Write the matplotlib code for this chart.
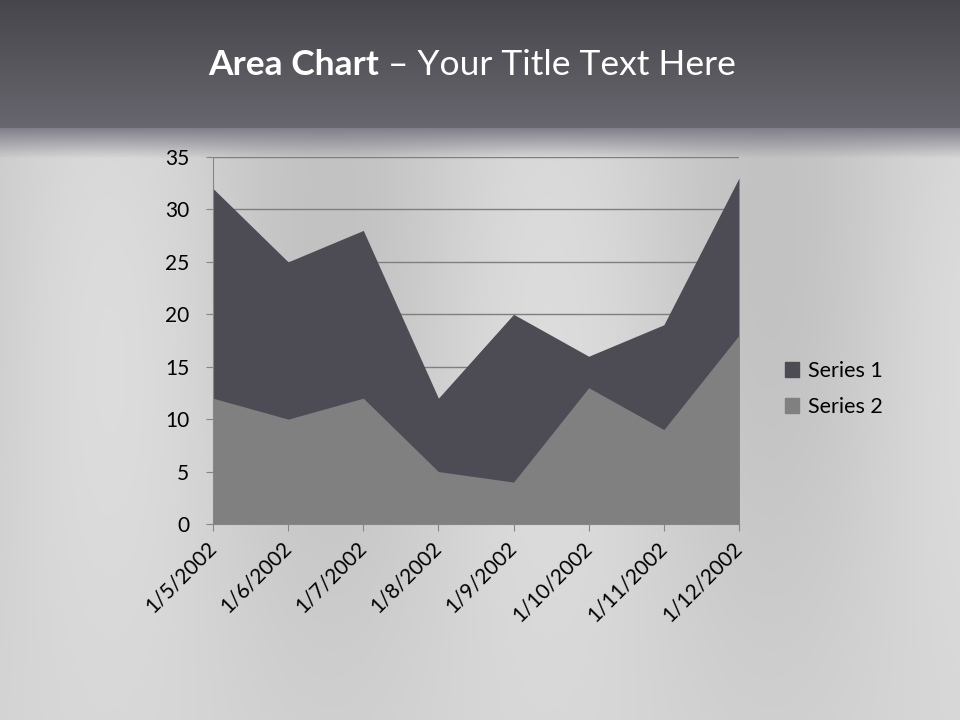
import numpy as np
import matplotlib
matplotlib.use("Agg")
import matplotlib.pyplot as plt
from matplotlib.patches import Patch

categories = ["1/5/2002", "1/6/2002", "1/7/2002", "1/8/2002",
              "1/9/2002", "1/10/2002", "1/11/2002", "1/12/2002"]
series1 = [32, 25, 28, 12, 20, 16, 19, 33]
series2 = [12, 10, 12, 5, 4, 13, 9, 18]
series_names = ["Series 1", "Series 2"]
yticks = [0, 5, 10, 15, 20, 25, 30, 35]

FONT = "Lato"
plt.rcParams['font.family'] = [FONT, 'DejaVu Sans']

fig = plt.figure(figsize=(9.6, 7.2), dpi=100)

# background
bg = fig.add_axes([0, 0, 1, 1], zorder=-10)
bg.set_axis_off()
H, W = 720, 960
yy = np.arange(H)[:, None].astype(float)
xx = np.arange(W)[None, :].astype(float)
top = np.array([0x47, 0x46, 0x4c]) / 255
mid = np.array([0x68, 0x67, 0x6f]) / 255
t = np.clip(yy / 128.0, 0, 1)[..., None]
band = top * (1 - t) + mid * t
light = (0.80 + 0.05 * np.sin(xx / 70.0) * np.exp(-((yy - 300) / 400.0) ** 2)
         + 0.03 * (yy / H))
lightimg = np.repeat(np.clip(light, 0, 1)[..., None], 3, axis=2)
fade = np.clip((yy - 128) / 30.0, 0, 1)[..., None]
below = mid * (1 - fade) * 1.25 + lightimg * fade
below = np.clip(below, 0, 1)
img = np.where(yy[..., None] < 128, np.broadcast_to(band, (H, W, 3)), below)
bg.imshow(img, aspect='auto', extent=[0, 1, 0, 1], transform=bg.transAxes)

ax = fig.add_axes([213/960, 1-524/720, 526/960, 367/720])
ax.patch.set_alpha(0)
x = np.arange(len(categories))
c1 = "#4d4c54"
c2 = "#808080"
ax.fill_between(x, 0, series1, color=c1, lw=0, zorder=2)
ax.fill_between(x, 0, series2, color=c2, lw=0, zorder=3)
ax.set_xlim(0, len(categories) - 1)
ax.set_ylim(0, 35)
ax.set_yticks(yticks)
ax.yaxis.grid(True, color="#7f7f7f", lw=1)
ax.set_axisbelow(True)
ax.set_xticks(x)
ax.set_xticklabels(categories, rotation=45, ha='right', va='center',
                   rotation_mode='anchor')
for sp in ["top", "right"]:
    ax.spines[sp].set_visible(False)
for sp in ["left", "bottom"]:
    ax.spines[sp].set_color("#868686")
    ax.spines[sp].set_zorder(4)
ax.tick_params(axis='both', colors="#868686", labelcolor="black", labelsize=15, length=5)
ax.tick_params(axis='y', pad=12)
ax.tick_params(axis='x', pad=10)

handles = [Patch(color=c1, label=series_names[0]), Patch(color=c2, label=series_names[1])]
fig.legend(handles=handles, loc='center left', bbox_to_anchor=(766/960, 1-389/720),
           frameon=False, fontsize=15.5, handlelength=0.65, handleheight=0.65,
           handletextpad=0.4, labelspacing=0.75)

# title
fig.canvas.draw()
r = fig.canvas.get_renderer()
t1 = fig.text(0, 0, "Area Chart", fontsize=25.5, fontweight='bold', color='white')
t2 = fig.text(0, 0, " \u2013 Your Title Text Here", fontsize=25.5, color='white')
w1 = t1.get_window_extent(r).width
w2 = t2.get_window_extent(r).width
x0 = (472 - (w1 + w2) / 2) / 960
yb = 1 - 75/720
t1.set_position((x0, yb))
t2.set_position((x0 + w1 / 960, yb))

fig.savefig("out.png", dpi=100)
